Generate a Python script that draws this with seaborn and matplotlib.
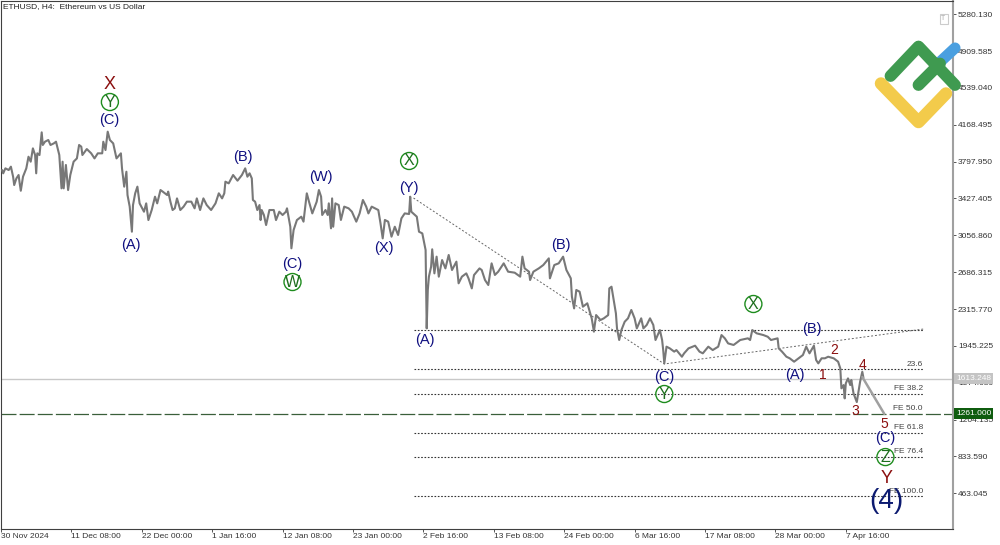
import matplotlib
matplotlib.use('Agg')
import matplotlib.pyplot as plt
import pandas as pd
import seaborn as sns
from matplotlib.lines import Line2D
from matplotlib.patches import Rectangle

sns.set_theme(style='white')
plt.rcParams['font.family'] = ['Liberation Sans', 'DejaVu Sans']

# ETHUSD H4 path (bar number, price)
bars_dec = [1, 2, 4, 7, 9, 11, 12, 14, 16, 17, 18, 20, 23, 25, 27, 29, 31, 32, 33, 35, 37, 38, 40, 43,
            45, 48, 50, 53, 55, 56, 57, 59, 61, 63, 66, 69, 71, 73, 74, 78, 82, 85, 88, 92, 93, 95, 97,
            99, 102, 105, 109, 110, 112, 114, 115, 117, 119, 120, 122, 124, 126, 130, 132, 134, 137,
            140, 142, 145]
price_dec = [3713, 3680, 3730, 3713, 3747, 3646, 3562, 3629, 3663, 3579, 3505, 3646, 3730, 3847, 3797,
             3931, 3864, 3680, 3881, 3864, 4092, 3965, 3998, 4015, 3965, 3981, 3998, 3864, 3529, 3797,
             3529, 3764, 3512, 3663, 3797, 3830, 3965, 3948, 3864, 3924, 3881, 3830, 3881, 3881, 3998,
             3914, 4099, 4015, 3981, 3830, 3881, 3730, 3546, 3696, 3462, 3345, 3093, 3361, 3479, 3546,
             3378, 3294, 3378, 3210, 3311, 3445, 3378, 3512]

bars_jan = [147, 151, 152, 154, 156, 158, 160, 163, 166, 169, 173, 176, 178, 181, 184, 187, 191, 195,
            198, 201, 203, 204, 207, 211, 215, 219, 222, 224, 226, 228, 229, 231, 233, 235, 236, 237,
            239, 241, 244, 248, 250, 253, 256, 259, 260, 263, 264, 266, 269, 273, 275, 278, 280, 283,
            287, 289]
price_jan = [3496, 3462, 3496, 3395, 3311, 3328, 3428, 3311, 3345, 3395, 3395, 3328, 3428, 3311, 3428,
             3361, 3311, 3378, 3479, 3428, 3479, 3596, 3579, 3663, 3606, 3663, 3730, 3646, 3680, 3629,
             3412, 3395, 3311, 3361, 3210, 3311, 3261, 3160, 3311, 3311, 3210, 3294, 3261, 3294, 3328,
             3143, 2926, 3110, 3210, 3244, 3194, 3479, 3395, 3277, 3395, 3512]

bars_feb = [291, 292, 295, 297, 298, 300, 301, 302, 304, 307, 309, 312, 316, 319, 323, 326, 329, 332,
            334, 337, 343, 345, 347, 349, 352, 355, 358, 361, 364, 367, 371, 372, 373, 378, 380, 383,
            386, 387, 388, 389, 391, 392, 394, 396, 398, 401, 404, 407, 410, 414, 416, 419, 423, 425,
            428, 430, 435]
price_feb = [3445, 3261, 3311, 3261, 3378, 3127, 3428, 3143, 3378, 3361, 3211, 3345, 3328, 3294, 3194,
             3277, 3412, 3345, 3277, 3345, 3311, 3177, 3026, 3211, 3194, 3043, 3143, 3060, 3227, 3277,
             3271, 3445, 3294, 3244, 3093, 3076, 2909, 2121, 2507, 2641, 2741, 2916, 2674, 2842, 2641,
             2808, 2724, 2859, 2708, 2792, 2574, 2641, 2674, 2624, 2523, 2657, 2724]

bars_mar = [437, 440, 443, 446, 449, 452, 457, 461, 467, 472, 474, 476, 480, 481, 484, 489, 493, 498,
            499, 503, 507, 511, 514, 518, 519, 521, 523, 526, 529, 533, 537, 539, 541, 545, 548, 552,
            553, 555, 557, 559, 560, 562, 564, 567, 570, 573, 576, 578, 582, 584, 587, 590, 593, 595,
            599, 601, 602, 603]
price_mar = [2708, 2607, 2557, 2775, 2658, 2691, 2775, 2691, 2681, 2641, 2842, 2725, 2691, 2607, 2691,
             2725, 2758, 2825, 2624, 2758, 2775, 2842, 2708, 2624, 2440, 2322, 2507, 2490, 2339, 2373,
             2222, 2088, 2255, 2205, 2222, 2255, 2523, 2540, 2406, 2272, 2121, 2004, 2104, 2188, 2222,
             2306, 2222, 2121, 2222, 2121, 2155, 2222, 2155, 2004, 2104, 2004, 1903, 1769]

bars_apr = [605, 608, 612, 614, 619, 621, 625, 631, 635, 638, 643, 647, 652, 655, 658, 661, 666, 672,
            679, 681, 683, 687, 693, 697, 700, 706, 707, 710, 714, 717, 721, 725, 729, 732, 735, 739,
            741, 743, 746, 749, 752, 757, 761, 763, 764, 766, 767, 768, 770, 772, 773, 775, 778, 780,
            781, 783, 784]
price_apr = [1937, 1920, 1887, 1903, 1836, 1870, 1920, 1947, 1887, 1870, 1937, 1903, 1937, 2054, 2021,
             1970, 1954, 2004, 2021, 2004, 2104, 2071, 2054, 2037, 2004, 2021, 1920, 1887, 1836, 1820,
             1786, 1820, 1853, 1937, 1870, 1947, 1803, 1769, 1820, 1820, 1836, 1820, 1786, 1719, 1518,
             1551, 1417, 1568, 1618, 1551, 1602, 1468, 1380, 1518, 1585, 1685, 1625]

# forecast leg after wave 4
forecast_bars = [783, 803]
forecast_price = [1632, 1261]

# trend lines
trend_bars = [375, 603, 839]
trend_price = [3432, 1763, 2115]

# dotted fibo levels
fibo_price = [2101, 1709, 1464, 1069, 827, 432]
fibo_start = 375
fibo_end = 839

last_price = 1613.248
target_price = 1261.0

y_ticks = [5280.130, 4909.585, 4539.040, 4168.495, 3797.950, 3427.405, 3056.860, 2686.315, 2315.770,
           1945.225, 1574.680, 1204.135, 833.590, 463.045]
x_labels = ['30 Nov 2024', '11 Dec 08:00', '22 Dec 00:00', '1 Jan 16:00', '12 Jan 08:00', '23 Jan 00:00',
            '2 Feb 16:00', '13 Feb 08:00', '24 Feb 00:00', '6 Mar 16:00', '17 Mar 08:00', '28 Mar 00:00',
            '7 Apr 16:00']
x_ticks = [i * 64 for i in range(len(x_labels))]

# wave marks: text, bar, price
blue_marks = [('(C)', 98, 4216), ('(A)', 118, 2959), ('(B)', 220, 3844), ('(C)', 265, 2768),
              ('(W)', 291, 3643), ('(X)', 348, 2929), ('(Y)', 371, 3532), ('(A)', 385, 2004),
              ('(B)', 509, 2959), ('(B)', 737, 2115), ('(C)', 603, 1632), ('(A)', 722, 1652),
              ('(C)', 804, 1019)]
red_marks = [('X', 99, 4578), ('Y', 805, 616)]
red_nums = [('1', 747, 1652), ('2', 757, 1903), ('3', 777, 1290), ('4', 783, 1753), ('5', 803, 1159)]
circle_marks = [('Y', 99, 4397), ('W', 265, 2587), ('X', 371, 3804), ('X', 684, 2366), ('Y', 603, 1461),
                ('Z', 804, 827)]

fe_text = [('23.6', 1760), ('FE 38.2', 1515), ('FE 50.0', 1320), ('FE 61.8', 1125), ('FE 76.4', 880),
           ('FE 100.0', 485)]

fig = plt.figure(figsize=(10, 5.45), dpi=100)
ax = fig.add_axes([1 / 1000, 1 - 529 / 545, 952 / 1000, 528 / 545])

df = pd.DataFrame({'bar': bars_dec + bars_jan + bars_feb + bars_mar + bars_apr,
                   'price': price_dec + price_jan + price_feb + price_mar + price_apr})

# horizontal levels first, they sit behind the price
ax.axhline(last_price, color='#c8c8c8', lw=1, zorder=1)
ax.axhline(target_price, color='#3a5f3a', lw=0.9, ls=(0, (12, 2.5)), zorder=1)

for p in fibo_price:
    sns.lineplot(x=[fibo_start, fibo_end], y=[p, p], ax=ax, color='#333333', lw=0.8,
                 linestyle=(0, (1.5, 1.5)), zorder=2)
sns.lineplot(x=trend_bars, y=trend_price, ax=ax, color='#666666', lw=0.7, linestyle=(0, (2, 2)),
             estimator=None, sort=False, zorder=2)

sns.lineplot(data=df, x='bar', y='price', ax=ax, color='#787878', lw=1.5, estimator=None, sort=False,
             zorder=3)
sns.lineplot(x=forecast_bars, y=forecast_price, ax=ax, color='#a0a0a0', lw=1.8, zorder=3)

for txt, b, p in blue_marks:
    ax.text(b, p, txt, color='#101080', fontsize=10.5, ha='center', va='center', zorder=5)
for txt, b, p in red_marks:
    ax.text(b, p, txt, color='#8b0f0f', fontsize=13, ha='center', va='center', zorder=5)
for txt, b, p in red_nums:
    ax.text(b, p, txt, color='#8b0f0f', fontsize=10, ha='center', va='center', zorder=5)

circles = pd.DataFrame(circle_marks, columns=['t', 'bar', 'price'])
sns.scatterplot(data=circles, x='bar', y='price', ax=ax, s=150, facecolor='none', edgecolor='#1e8c1e',
                linewidth=1, zorder=5)
for txt, b, p in circle_marks:
    ax.text(b, p, txt, color='#1e6e1e', fontsize=11.5, ha='center', va='center', zorder=6)

ax.text(805, 385, '(4)', color='#0c1a70', fontsize=20, ha='center', va='center', zorder=6)

for txt, p in fe_text:
    ax.text(838, p, txt, color='#444444', fontsize=6, ha='right', va='center', zorder=5)

ax.set_xlim(0, 865.45)
ax.set_ylim(103.7, 5412.7)
ax.set_xlabel('')
ax.set_ylabel('')

ax.yaxis.tick_right()
ax.set_yticks(y_ticks)
ax.set_yticklabels(['%.3f' % v for v in y_ticks])
ax.set_xticks(x_ticks)
ax.set_xticklabels(x_labels, ha='left')
ax.tick_params(axis='y', right=True, length=2.5, width=0.7, color='#555555', labelsize=6, pad=1,
               labelcolor='#333333')
ax.tick_params(axis='x', bottom=True, length=2.5, width=0.7, color='#555555', labelsize=6, pad=0.5,
               labelcolor='#333333')

for s in ['left', 'top', 'bottom']:
    ax.spines[s].set_color('#404040')
    ax.spines[s].set_linewidth(0.8)
ax.spines['right'].set_color('#a0a0a0')
ax.spines['right'].set_linewidth(1.5)

ax.text(0.002, 0.989, 'ETHUSD, H4:  Ethereum vs US Dollar', transform=ax.transAxes, fontsize=6,
        color='#222222', ha='left', va='center')

# price tags on the scale
ax.text(1.003, last_price, '%.3f' % last_price, transform=ax.get_yaxis_transform(), fontsize=6,
        color='white', ha='left', va='center', clip_on=False, zorder=7,
        bbox=dict(facecolor='#c4c4c4', edgecolor='none', pad=1.5))
ax.text(1.003, target_price, '%.3f' % target_price, transform=ax.get_yaxis_transform(), fontsize=6,
        color='white', ha='left', va='center', clip_on=False, zorder=7,
        bbox=dict(facecolor='#0f5c0f', edgecolor='none', pad=1.5))

# logo and the small T box, overlay in pixel coords
over = fig.add_axes([0, 0, 1, 1], facecolor='none')
over.set_xlim(0, 1000)
over.set_ylim(545, 0)
over.axis('off')
over.add_line(Line2D([955, 940], [48, 62], color='#4a9fe0', lw=8, solid_capstyle='round'))
over.add_line(Line2D([881, 918.5, 946], [83.5, 122, 93.5], color='#f3cb4b', lw=9, solid_capstyle='round',
                     solid_joinstyle='round'))
over.add_line(Line2D([890.5, 918.5, 955], [76, 46.5, 85], color='#3f9a50', lw=8.5, solid_capstyle='round',
                     solid_joinstyle='round'))
over.add_line(Line2D([918.5, 940], [85, 63.5], color='#3f9a50', lw=8.5, solid_capstyle='round'))
over.add_patch(Rectangle((939.5, 14), 8, 10, facecolor='white', edgecolor='#cccccc', lw=0.8))
over.text(943.5, 19, 'T', fontsize=5, color='#aaaaaa', ha='center', va='center')

fig.savefig('out.png', dpi=100)
